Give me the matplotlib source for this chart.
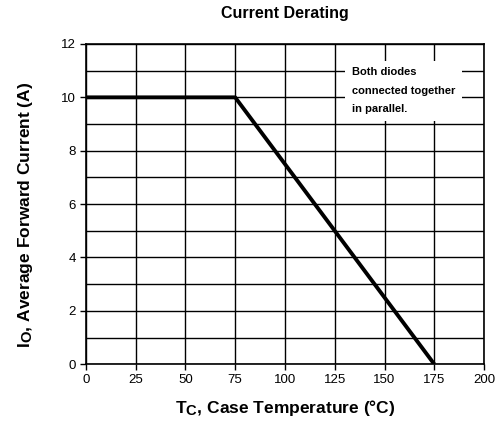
import matplotlib
matplotlib.use("Agg")
import matplotlib.pyplot as plt
import matplotlib._mathtext as mt

plt.rcParams['font.family'] = ['Liberation Sans', 'DejaVu Sans']
plt.rcParams['mathtext.fontset'] = 'custom'
plt.rcParams['mathtext.rm'] = 'Liberation Sans'
plt.rcParams['mathtext.bf'] = 'Liberation Sans:bold'
mt.SHRINK_FACTOR = 0.85  # subscripts nearly full size, as in the datasheet

# derating curve (case temperature, average forward current)
temp_c = [0, 75, 175]
current_a = [10, 10, 0]
x_ticks = [0, 25, 50, 75, 100, 125, 150, 175, 200]
y_ticks = [0, 2, 4, 6, 8, 10, 12]
note = "Both diodes\nconnected together\nin parallel."

fig = plt.figure(figsize=(4.96, 4.23), dpi=100)
ax = fig.add_axes([0.173, 0.139, 0.803, 0.757])

ax.set_xlim(0, 200)
ax.set_ylim(0, 12)
ax.set_xticks(x_ticks)
ax.set_yticks(y_ticks)
ax.set_yticks(range(0, 13), minor=True)
ax.grid(True, which='major', color='k', lw=1.0)
ax.grid(True, which='minor', axis='y', color='k', lw=1.0)
ax.tick_params(which='minor', length=0)
ax.tick_params(which='major', direction='out', length=4, width=1,
               labelsize=9.5, pad=3)
for s in ax.spines.values():
    s.set_linewidth(1.2)

ax.plot(temp_c, current_a, color='k', lw=2.8, solid_capstyle='butt', zorder=3)

ax.text(133.5, 11.12, note, fontsize=8, fontweight='bold', va='top', ha='left',
        linespacing=2.05,
        bbox=dict(facecolor='white', edgecolor='none', pad=5), zorder=4)

ax.set_title("Current Derating", fontsize=11.5, fontweight='bold', pad=19)
ax.set_xlabel(r"$\mathbf{T_C}$, Case Temperature (°C)", fontsize=12.5,
              fontweight='bold', labelpad=9)
ax.set_ylabel(r"$\mathbf{I_O}$, Average Forward Current (A)", fontsize=12.5,
              fontweight='bold')
ax.yaxis.set_label_coords(-0.127, 0.465)

fig.savefig("out.png", dpi=100)
